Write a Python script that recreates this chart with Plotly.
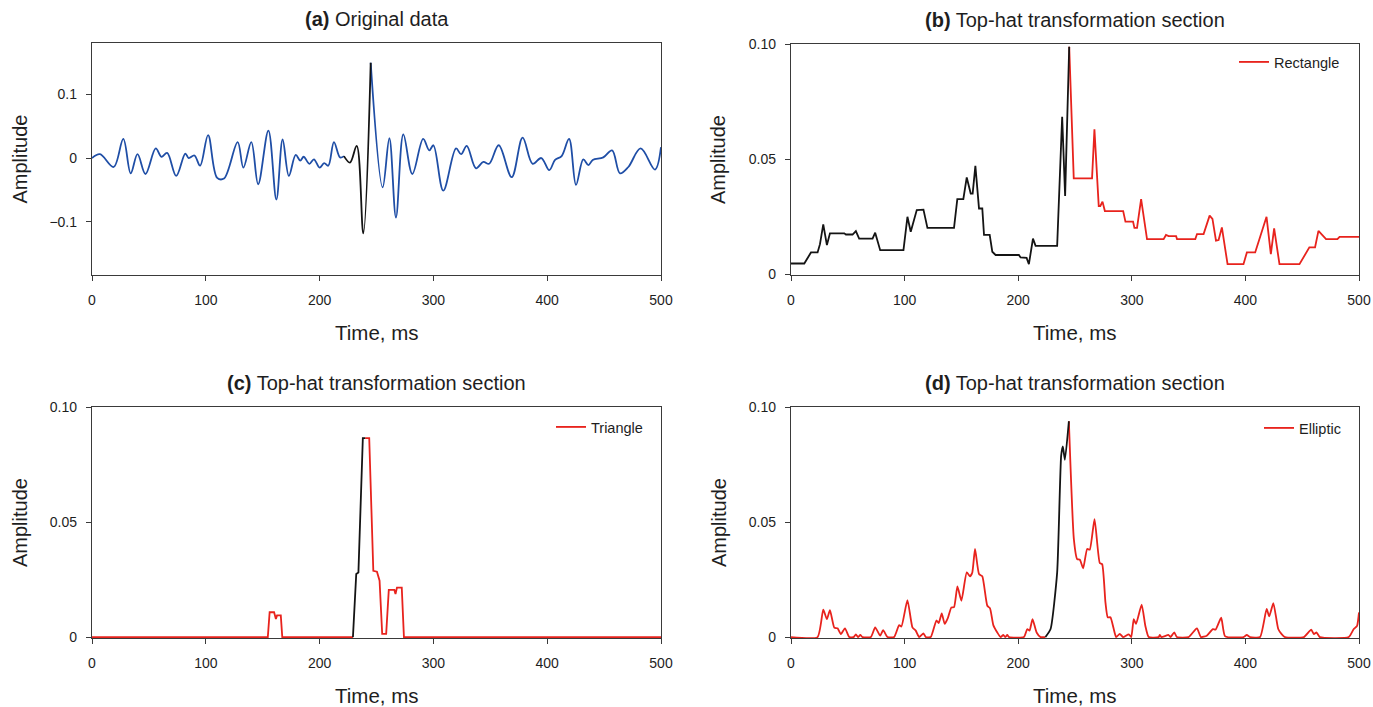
import plotly.graph_objects as go

# ---------------- data ----------------
# (a) original data
A_T = [0, 7, 19, 27.5, 34, 40, 47, 56, 61, 66, 74, 82, 85, 90, 95, 102, 110, 116, 128, 133,
       140, 146, 155, 162, 167.5, 173, 179, 183, 186, 191, 195, 200, 204, 207.6, 212.6, 218,
       221.4, 226.7, 232.6, 238.4, 244.9, 255.4, 261.3, 267.1, 273.6, 281.5, 291, 296.4, 300,
       308.7, 319.9, 324.3, 329.3, 337.4, 343.9, 349, 357.4, 368.8, 378.4, 387.2, 394.8, 401.8,
       406.9, 412.7, 419.2, 425.3, 431.7, 436.2, 440, 449.3, 457, 464, 471.3, 482.1, 494.7, 500]
A_V = [0.0, 0.006, -0.014, 0.030, -0.024, 0.006, -0.025, 0.015, 0.002, 0.008, -0.028, 0.007,
       0.0, 0.004, -0.012, 0.036, -0.031, -0.032, 0.025, -0.015, 0.025, -0.041, 0.043, -0.065,
       0.029, -0.028, 0.005, -0.004, 0.002, -0.009, -0.002, -0.015, -0.008, -0.012, 0.025,
       0.001, 0.003, -0.007, 0.019, -0.118, 0.149, -0.046, 0.031, -0.093, 0.037, -0.025, 0.030,
       0.012, 0.020, -0.051, 0.015, 0.006, 0.019, -0.016, -0.006, -0.009, 0.020, -0.030, 0.032,
       -0.009, 0.0, -0.019, -0.003, 0.003, 0.030, -0.042, -0.002, -0.011, -0.003, 0.001, 0.012,
       -0.024, -0.014, 0.015, -0.018, 0.017]
A_BLACK = (221.4, 244.9)

# (b) rectangle
B_T = [0, 11.7, 17.6, 23.4, 25.5, 28.4, 31.6, 34.3, 46.9, 48.3, 54.2, 57.1, 60, 71.8, 74.1, 78.5,
       99, 102.5, 105.4, 110.7, 116.6, 120.1, 143.5, 146.4, 151.7, 154.7, 158.2, 159.9, 162.3,
       165.5, 168.4, 169.9, 174.9, 177.2, 180.1, 200.6, 202.1, 207.4, 209.4, 213, 215.3, 234.3,
       238.7, 241.3, 244.9, 248.9, 265, 267.1, 270.9, 272.3, 274.2, 276.3, 292.4, 294.4, 301.1,
       302.3, 304.6, 308.2, 313.4, 328, 330.1, 332.4, 339, 339.8, 355.9, 357.4, 363.2, 368.5,
       371, 374.1, 376.4, 379.3, 384.3, 398.3, 401.3, 408.6, 418.6, 422.4, 425.3, 430, 447.6,
       456.3, 461.3, 464.3, 471, 481, 482.9, 500]
B_V = [0.0046, 0.0046, 0.0094, 0.0094, 0.013, 0.0216, 0.0126, 0.0177, 0.0177, 0.0172, 0.0172,
       0.0187, 0.0154, 0.0154, 0.018, 0.0104, 0.0104, 0.0249, 0.0184, 0.0278, 0.028, 0.0201,
       0.0201, 0.0326, 0.0326, 0.042, 0.035, 0.035, 0.047, 0.0285, 0.0285, 0.017, 0.017, 0.0097,
       0.0083, 0.0083, 0.0072, 0.007, 0.0043, 0.0154, 0.0123, 0.0123, 0.0684, 0.0339, 0.0988,
       0.0416, 0.0416, 0.0629, 0.0296, 0.0296, 0.0315, 0.0274, 0.0274, 0.0228, 0.0228, 0.0201,
       0.0201, 0.0326, 0.0152, 0.0152, 0.017, 0.0165, 0.0165, 0.0152, 0.0152, 0.0174, 0.0174,
       0.0254, 0.024, 0.0145, 0.0148, 0.0203, 0.0043, 0.0043, 0.0094, 0.0094, 0.0249, 0.0087,
       0.0199, 0.0043, 0.0043, 0.0116, 0.0116, 0.0188, 0.0152, 0.0152, 0.0162, 0.0162]
B_BLACK = (0, 244.9)

# (c) triangle
C_T = [0, 154.5, 156.1, 160, 161.6, 162.6, 165.9, 167.2, 229.3, 232.2, 234.1, 238, 240, 243.6,
       247.2, 250.4, 252.7, 255, 258.5, 260.8, 265.7, 266.7, 268, 272.2, 274.1, 500]
C_V = [0, 0, 0.0108, 0.0108, 0.0079, 0.0094, 0.0094, 0, 0, 0.0274, 0.0281, 0.0865, 0.0865,
       0.0865, 0.0288, 0.0284, 0.0245, 0.0014, 0.0014, 0.0205, 0.0205, 0.0187, 0.0215, 0.0215,
       0, 0]
C_BLACK = (229.3, 240)

# (d) elliptic
D_T = [0, 23.4, 28.4, 31.6, 34.3, 38.1, 41, 43.9, 47.5, 51.3, 55.1, 57.1, 59, 61, 63, 70.3,
       74.1, 78.5, 81.1, 85, 90.8, 95.2, 97.2, 102.5, 106.9, 109.8, 112.8, 116.6, 118.6, 123,
       128, 130, 132.7, 135.3, 138.3, 141.2, 143.5, 146.5, 150, 154.7, 157.6, 159.6, 162, 165.5,
       168.4, 172.8, 175.2, 178.1, 181.6, 184.5, 186.9, 188.5, 190.4, 192, 205, 208, 210, 212.6,
       216.2, 219.7, 224, 228.5, 234.3, 237.8, 239.3, 241.1, 244.6, 249, 251.9, 254.3, 257.2,
       260.7, 263, 267.2, 271.8, 273.9, 276.8, 278.8, 281.2, 284.1, 286.2, 289.4, 292.3, 297.3,
       299.5, 301.7, 303.7, 308.7, 311.9, 314.9, 323.7, 324.6, 326, 332.4, 334, 337.4, 339.7,
       350, 357.3, 360.9, 366, 371.4, 373.7, 378.7, 382.2, 398.3, 401.2, 404.1, 412.9, 418.7,
       421, 424.6, 428.9, 431.9, 434.8, 451.5, 457.9, 460.3, 462.6, 465.5, 491, 495.4, 498.3, 500]
D_V = [0, 0, 0.0119, 0.0078, 0.0117, 0.0041, 0.0038, 0.0013, 0.0038, 0, 0, 0.0012, 0, 0.0009,
       0, 0, 0.0042, 0.0006, 0.003, 0, 0, 0.0052, 0.0046, 0.0161, 0.0042, 0.0028, 0, 0.0016, 0,
       0, 0.0072, 0.0061, 0.0103, 0.0057, 0.0086, 0.0129, 0.013, 0.022, 0.0158, 0.0281, 0.0264,
       0.0281, 0.0383, 0.0274, 0.0264, 0.0136, 0.0125, 0.0052, 0.002, 0, 0.0009, 0, 0.0009, 0,
       0, 0.0035, 0.0028, 0.0078, 0.002, 0, 0, 0.0035, 0.0281, 0.0788, 0.0829, 0.077, 0.0938,
       0.0426, 0.0339, 0.0336, 0.0299, 0.0383, 0.038, 0.0513, 0.0322, 0.0317, 0.0151, 0.0086,
       0.0086, 0.0035, 0, 0.0014, 0, 0.0012, 0, 0.0078, 0.0057, 0.0141, 0.0049, 0, 0, 0.0009, 0,
       0.0009, 0, 0.002, 0, 0, 0.0038, 0, 0.0006, 0.0035, 0.0032, 0.0084, 0.0003, 0, 0.0009, 0,
       0, 0.0122, 0.009, 0.0148, 0.0035, 0.0013, 0, 0, 0.0032, 0.0013, 0.002, 0, 0, 0.0035,
       0.0049, 0.0107]
D_BLACK = (224, 244.6)

X_TICKS = [0, 100, 200, 300, 400, 500]
A_YTICKS = [-0.1, 0, 0.1]
A_YTICKTEXT = ["\u22120.1", "0", "0.1"]
T_YTICKS = [0, 0.05, 0.10]
T_YTICKTEXT = ["0", "0.05", "0.10"]

TITLES = ["<b>(a)</b> Original data", "<b>(b)</b> Top-hat transformation section",
          "<b>(c)</b> Top-hat transformation section", "<b>(d)</b> Top-hat transformation section"]
LEGEND_NAMES = ["Rectangle", "Triangle", "Elliptic"]

# ---------------- styling ----------------
FONT = "Liberation Sans, Arial, Helvetica, sans-serif"
BLUE = "#1f4ea6"
RED = "#e8231d"
BLACK = "#141414"
AXC = "#3a3a3a"
TXT = "#1e1e1e"
W, H = 1373, 707

# panel pixel boxes (left, right, top, bottom)
BOX = {
    "a": (92, 661, 43, 275),
    "b": (791, 1359, 44, 275),
    "c": (92, 661, 407, 638),
    "d": (791, 1359, 407, 638),
}


def px_x(x):
    return x / W


def px_y(y):
    return 1 - y / H


def split(t, v, lo, hi):
    col = [vv if (tt <= lo or tt >= hi) else None for tt, vv in zip(t, v)]
    blk = [vv if lo <= tt <= hi else None for tt, vv in zip(t, v)]
    return col, blk


fig = go.Figure()

panels = [
    ("a", A_T, A_V, A_BLACK, BLUE, None, "spline", 1.0),
    ("b", B_T, B_V, B_BLACK, RED, "legend", "linear", None),
    ("c", C_T, C_V, C_BLACK, RED, "legend2", "linear", None),
    ("d", D_T, D_V, D_BLACK, RED, "legend3", "spline", 0.5),
]

for i, (key, t, v, (lo, hi), color, leg, shape, smooth) in enumerate(panels):
    n = "" if i == 0 else str(i + 1)
    col, blk = split(t, v, lo, hi)
    line_kw = dict(width=1.8, shape=shape)
    if smooth is not None:
        line_kw["smoothing"] = smooth
    fig.add_trace(go.Scatter(
        x=t, y=col, mode="lines", connectgaps=False,
        line=dict(color=color, **line_kw),
        name=LEGEND_NAMES[i - 1] if leg else "",
        showlegend=bool(leg), legend=leg if leg else "legend",
        xaxis="x" + n, yaxis="y" + n, hoverinfo="skip"))
    fig.add_trace(go.Scatter(
        x=t, y=blk, mode="lines", connectgaps=False,
        line=dict(color=BLACK, **line_kw),
        showlegend=False, xaxis="x" + n, yaxis="y" + n, hoverinfo="skip"))

layout = dict(
    width=W, height=H,
    margin=dict(l=0, r=0, t=0, b=0, autoexpand=False),
    paper_bgcolor="white", plot_bgcolor="white",
    font=dict(family=FONT, color=TXT, size=14),
    annotations=[],
)

for i, key in enumerate(["a", "b", "c", "d"]):
    n = "" if i == 0 else str(i + 1)
    l, r, tp, bt = BOX[key]
    common = dict(showline=True, linecolor=AXC, linewidth=1.3, mirror=True,
                  ticks="outside", ticklen=5, tickwidth=1.2, tickcolor=AXC,
                  showgrid=False, zeroline=False, automargin=False,
                  tickfont=dict(family=FONT, size=14, color=TXT))
    layout["xaxis" + n] = dict(domain=[px_x(l), px_x(r)], anchor="y" + n,
                               range=[0, 500], tickvals=X_TICKS,
                               ticklabelstandoff=7, **common)
    if key == "a":
        yax = dict(range=[-0.183, 0.18], tickvals=A_YTICKS, ticktext=A_YTICKTEXT)
    else:
        yax = dict(range=[-0.0004, 0.1], tickvals=T_YTICKS, ticktext=T_YTICKTEXT)
    layout["yaxis" + n] = dict(domain=[px_y(bt), px_y(tp)], anchor="x" + n,
                               ticklabelstandoff=6, **yax, **common)

    cx = (l + r) / 2
    # panel title
    layout["annotations"].append(dict(
        text=TITLES[i], x=px_x(cx), y=px_y(tp - 24), xref="paper", yref="paper",
        xanchor="center", yanchor="middle", showarrow=False,
        font=dict(family=FONT, size=20, color=TXT)))
    # x axis title
    layout["annotations"].append(dict(
        text="Time, ms", x=px_x(cx), y=px_y(bt + 57), xref="paper", yref="paper",
        xanchor="center", yanchor="middle", showarrow=False,
        font=dict(family=FONT, size=20.5, color=TXT)))
    # y axis title
    layout["annotations"].append(dict(
        text="Amplitude", x=px_x(l - 72.5), y=px_y((tp + bt) / 2), xref="paper", yref="paper",
        xanchor="center", yanchor="middle", showarrow=False, textangle=-90,
        font=dict(family=FONT, size=20, color=TXT)))

leg_common = dict(bgcolor="rgba(0,0,0,0)", borderwidth=0,
                  font=dict(family=FONT, size=14.5, color=TXT),
                  xanchor="left", yanchor="middle", itemwidth=30)
layout["legend"] = dict(x=px_x(1234), y=px_y(62), **leg_common)
layout["legend2"] = dict(x=px_x(551), y=px_y(427), **leg_common)
layout["legend3"] = dict(x=px_x(1259), y=px_y(428), **leg_common)

fig.update_layout(**layout)
fig.write_html("out.html")
